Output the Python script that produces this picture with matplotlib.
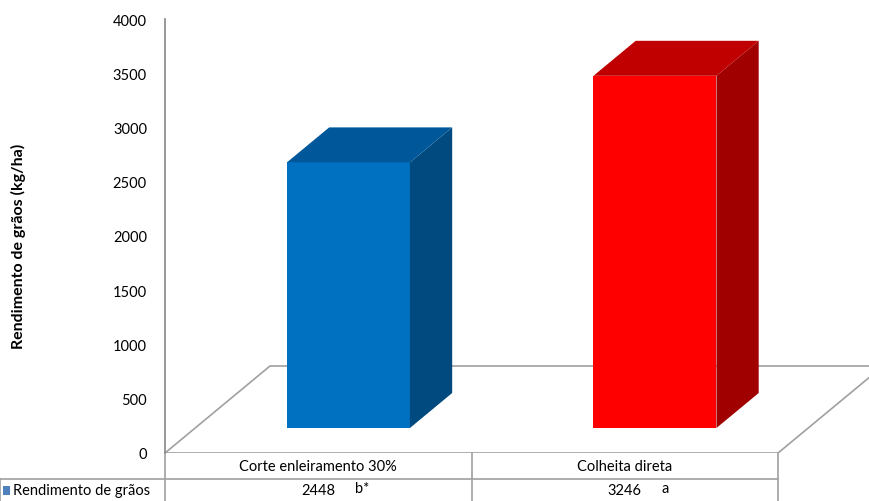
import matplotlib
matplotlib.use("Agg")
import matplotlib.pyplot as plt
from matplotlib.patches import Polygon, Rectangle
from matplotlib.transforms import blended_transform_factory
import numpy as np

plt.rcParams['font.family'] = ['Lato', 'DejaVu Sans']

# data
categories = ['Corte enleiramento 30%', 'Colheita direta']
values = [2448, 3246]
letters = ['b*', 'a']
series_name = 'Rendimento de grãos'
yticks = np.arange(0, 4001, 500)

front_cols = ['#0070C0', '#FF0000']
top_cols = ['#00589A', '#C00000']
side_cols = ['#004A7F', '#A00000']
grey = '#A0A0A0'

fig = plt.figure(figsize=(8.7, 5.02), dpi=100)
ax = fig.add_axes([165/870, 48/502, 705/870, 434/502])
ax.set_xlim(-0.5, 1.8)
ax.set_ylim(0, 4000)

# oblique depth (floor) in data units
px_x = 306.5          # pixels per category
px_y = 434 / 4000     # pixels per value unit
dxf = 105 / px_x
dyf = 87 / px_y
fb = 25 / 87          # depth of bar front
bd = 35 / 87          # bar depth
bw = 123 / px_x       # bar width

# floor
floor = Polygon([(-0.5, 0), (1.5, 0), (1.5 + dxf, dyf), (-0.5 + dxf, dyf)],
                closed=True, facecolor='white', edgecolor=grey, lw=1.2)
ax.add_patch(floor)

for i, v in enumerate(values):
    x0 = i - bw/2 + fb*dxf
    y0 = fb*dyf
    x1 = x0 + bw
    y1 = y0 + v
    ox, oy = bd*dxf, bd*dyf
    ax.add_patch(Polygon([(x0, y0), (x1, y0), (x1, y1), (x0, y1)],
                         facecolor=front_cols[i], edgecolor='none'))
    ax.add_patch(Polygon([(x1, y0), (x1+ox, y0+oy), (x1+ox, y1+oy), (x1, y1)],
                         facecolor=side_cols[i], edgecolor='none'))
    ax.add_patch(Polygon([(x0, y1), (x1, y1), (x1+ox, y1+oy), (x0+ox, y1+oy)],
                         facecolor=top_cols[i], edgecolor='none'))

ax.set_yticks(yticks)
ax.set_yticklabels([str(t) for t in yticks], fontsize=10.5)
ax.tick_params(axis='y', length=0, pad=13)
ax.set_xticks([])
for s in ['top', 'right', 'bottom']:
    ax.spines[s].set_visible(False)
ax.spines['left'].set_color('#868686')
ax.spines['left'].set_linewidth(1.2)

fig.text(18/870, 1 - 246/502, 'Rendimento de grãos (kg/ha)', rotation=90,
         ha='center', va='center', fontsize=11.5, fontweight='bold')

# data table
tr = blended_transform_factory(ax.transData, fig.transFigure)
r0, r1, r2 = 1 - 454/502, 1 - 480/502, 0.0
x_left = -0.5 - 165/px_x
kw = dict(transform=tr, color=grey, lw=1.2, clip_on=False)
ax.plot([x_left, 1.5], [r1, r1], **kw)
for xv in [-0.5, 0.5, 1.5]:
    ax.plot([xv, xv], [r0, r2], **kw)
ax.plot([x_left, x_left], [r1, r2], **kw)

for i, c in enumerate(categories):
    ax.text(i, (r0 + r1)/2, c, transform=tr, ha='center', va='center', fontsize=10.5)
    ax.text(i, (r1 + r2)/2, str(values[i]), transform=tr, ha='center', va='center', fontsize=10.5)
    ax.text(i + 0.12, (r1 + r2)/2 + 0.004, letters[i], transform=tr,
            ha='left', va='center', fontsize=10.5)

fig.patches.append(Rectangle((3/870, 486/502 * 0 + (502 - 496)/502), 7/870, 9/502,
                             transform=fig.transFigure, facecolor='#4F81BD',
                             edgecolor='none'))
fig.text(13/870, (r1 + r2)/2, series_name, ha='left', va='center', fontsize=10.5)

fig.savefig('out.png', dpi=100)
